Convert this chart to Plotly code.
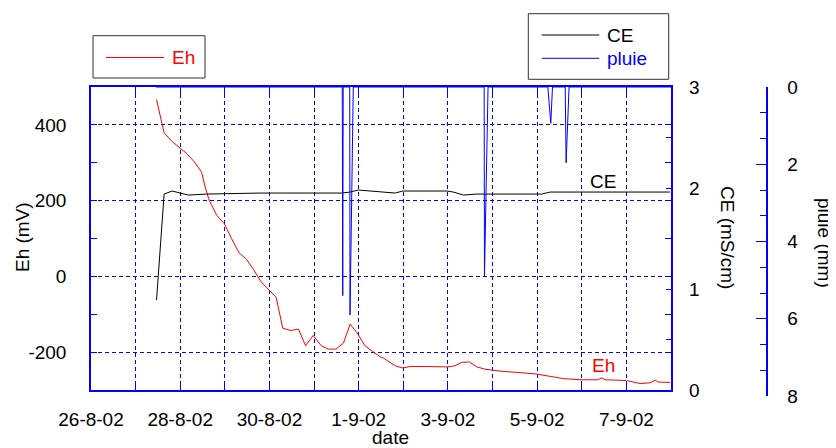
import plotly.graph_objects as go

# ---- data ----
eh_time = [
    "2002-08-27 11:15", "2002-08-27 15:20", "2002-08-27 19:40", "2002-08-28 00:00",
    "2002-08-28 03:35", "2002-08-28 07:40", "2002-08-28 11:30", "2002-08-28 13:25",
    "2002-08-28 15:35", "2002-08-28 19:40", "2002-08-28 23:45", "2002-08-29 03:35",
    "2002-08-29 07:40", "2002-08-29 11:15", "2002-08-29 15:20", "2002-08-29 19:25",
    "2002-08-30 00:00", "2002-08-30 03:35", "2002-08-30 07:10", "2002-08-30 11:30",
    "2002-08-30 15:35", "2002-08-30 19:25", "2002-08-30 23:30", "2002-08-31 03:50",
    "2002-08-31 07:40", "2002-08-31 11:45", "2002-08-31 15:50", "2002-08-31 19:25",
    "2002-08-31 23:15", "2002-09-01 03:20", "2002-09-01 07:25", "2002-09-01 11:30",
    "2002-09-01 13:25", "2002-09-01 19:40", "2002-09-01 23:45", "2002-09-02 03:35",
    "2002-09-02 11:45", "2002-09-02 19:55", "2002-09-03 00:00", "2002-09-03 03:50",
    "2002-09-03 07:25", "2002-09-03 11:30", "2002-09-03 15:35", "2002-09-03 19:55",
    "2002-09-04 00:00", "2002-09-04 05:45", "2002-09-04 14:55", "2002-09-04 23:45",
    "2002-09-05 07:00", "2002-09-05 14:10", "2002-09-06 00:00", "2002-09-06 08:25",
    "2002-09-06 10:50", "2002-09-06 12:30", "2002-09-07 00:00", "2002-09-07 07:25",
    "2002-09-07 12:45", "2002-09-07 15:35", "2002-09-07 17:00", "2002-09-07 23:30",
]
eh_mv = [
    467, 379, 356, 339, 324, 302, 275, 236, 201, 161, 139, 100,
    62, 47, 19, -14, -38, -55, -137, -143, -139, -183, -156, -183,
    -192, -192, -176, -126, -150, -183, -198, -212, -216, -236, -242, -238,
    -238, -239, -239, -236, -227, -226, -239, -245, -248, -251, -254, -258,
    -264, -270, -273, -273, -268, -273, -275, -283, -281, -274, -279, -280,
]

ce_time = [
    "2002-08-27 11:15", "2002-08-27 15:20", "2002-08-27 19:40", "2002-08-28 00:00",
    "2002-08-28 04:20", "2002-08-28 14:10", "2002-08-29 19:00", "2002-08-31 14:50",
    "2002-08-31 19:25", "2002-08-31 23:45", "2002-09-01 06:15", "2002-09-01 11:30",
    "2002-09-01 19:40", "2002-09-01 23:45", "2002-09-02 23:30", "2002-09-03 02:50",
    "2002-09-03 08:25", "2002-09-03 15:35", "2002-09-04 14:55", "2002-09-05 02:25",
    "2002-09-05 07:00", "2002-09-07 23:30",
]
ce_mscm = [
    0.89, 1.94, 1.97, 1.95, 1.93, 1.94, 1.95, 1.95, 1.96, 1.98, 1.97, 1.96,
    1.95, 1.97, 1.97, 1.96, 1.93, 1.94, 1.94, 1.94, 1.96, 1.96,
]

pluie_time = [
    "2002-08-27 11:00",
    "2002-08-31 15:10", "2002-08-31 15:25", "2002-08-31 15:40",
    "2002-08-31 19:10", "2002-08-31 19:20", "2002-08-31 21:05",
    "2002-09-03 19:30", "2002-09-03 19:40", "2002-09-03 21:35",
    "2002-09-05 05:45", "2002-09-05 07:20", "2002-09-05 08:15",
    "2002-09-05 15:05", "2002-09-05 15:35", "2002-09-05 17:10",
    "2002-09-08 00:00",
]
pluie_mm = [
    0,
    0, 5.4, 0,
    0, 5.9, 0,
    0, 4.9, 0,
    0, 0.94, 0,
    0, 1.96, 0,
    0,
]

date_range = ["2002-08-26", "2002-09-08"]
eh_tickvals = [-200, 0, 200, 400]
eh_ticktext = ["-200", "0", "200", "400"]

# ---- layout geometry ----
# the page puts the figure 8px in from the top-left corner, so the figure is
# 8px smaller and positions below are given in window pixels minus that offset
OFF = 8
W, H = 836 - OFF, 448 - OFF
ML, MR, MT, MB = 91 - OFF, 56, 87 - OFF, 52
PW, PH = W - ML - MR, H - MT - MB


def px_x(px):
    return (px - OFF - ML) / PW


def px_y(py):
    return (H - MB - (py - OFF)) / PH


FONT = "Liberation Sans, Arial, Helvetica, sans-serif"
BLUE = "#0000ff"
RED = "#ff0000"
GRID = dict(showgrid=True, gridcolor=BLUE, gridwidth=1, griddash="4px,3px")

fig = go.Figure()

fig.add_trace(go.Scatter(
    x=eh_time, y=eh_mv, name="Eh", mode="lines",
    line=dict(color=RED, width=1), xaxis="x", yaxis="y",
))
fig.add_trace(go.Scatter(
    x=ce_time, y=ce_mscm, name="CE", mode="lines",
    line=dict(color="black", width=1), xaxis="x", yaxis="y2",
))
fig.add_trace(go.Scatter(
    x=pluie_time, y=pluie_mm, name="pluie", mode="lines",
    line=dict(color=BLUE, width=1), xaxis="x2", yaxis="y3",
))

x_dom = [0, px_x(671)]

fig.update_layout(
    width=W, height=H,
    margin=dict(l=ML, r=MR, t=MT, b=MB),
    paper_bgcolor="white", plot_bgcolor="rgba(0,0,0,0)",
    font=dict(family=FONT, size=19, color="black"),
    showlegend=False,
    xaxis=dict(
        type="date", domain=x_dom, range=date_range, anchor="y", automargin=False,
        tick0="2002-08-26", dtick=2 * 86400000, tickformat="%-d-%-m-%y",
        ticks="inside", ticklen=8, tickcolor=BLUE, tickwidth=1,
        showline=True, linecolor=BLUE, linewidth=1.5, mirror="allticks",
        ticklabelstandoff=11, zeroline=False,
        minor=dict(dtick=86400000, ticks="inside", ticklen=8, tickcolor=BLUE,
                   showgrid=True, gridcolor=BLUE, gridwidth=1, griddash="4px,3px"),
        **GRID,
    ),
    xaxis2=dict(
        type="date", domain=x_dom, range=date_range, anchor="y3",
        visible=False, showgrid=False, automargin=False,
    ),
    yaxis=dict(
        domain=[px_y(390), 1], range=[-300, 500], anchor="x", automargin=False,
        tickmode="array", tickvals=eh_tickvals, ticktext=eh_ticktext,
        ticks="inside", ticklen=6, tickcolor=BLUE,
        showline=True, linecolor=BLUE, linewidth=1.5, mirror="allticks",
        ticklabelstandoff=19, zeroline=False,
        minor=dict(tickmode="linear", tick0=0, dtick=100, ticks="inside",
                   ticklen=6, tickcolor=BLUE, showgrid=False),
        **GRID,
    ),
    yaxis2=dict(
        overlaying="y", side="right", anchor="x", range=[0, 3], automargin=False,
        tickvals=[0, 1, 2, 3], ticks="inside", ticklen=5, tickcolor=BLUE,
        showline=False, showgrid=False, zeroline=False,
        ticklabelstandoff=17,
        minor=dict(tickmode="linear", tick0=0, dtick=0.5, ticks="inside",
                   ticklen=5, tickcolor=BLUE, showgrid=False),
    ),
    yaxis3=dict(
        domain=[0, 1], range=[8, 0], anchor="free", side="right",
        position=px_x(766.7), automargin=False,
        tickmode="linear", tick0=0, dtick=2, ticks="inside", ticklen=10,
        tickcolor=BLUE, showline=True, linecolor=BLUE, linewidth=1.5,
        showgrid=False, zeroline=False, ticklabelstandoff=16,
        minor=dict(tickmode="linear", tick0=0, dtick=2 / 3, ticks="inside",
                   ticklen=6, tickcolor=BLUE, showgrid=False),
    ),
)

# axis titles
titles = [
    dict(text="Eh (mV)", x=px_x(22), y=px_y(237), textangle=-90),
    dict(text="CE (mS/cm)", x=px_x(728), y=px_y(237), textangle=90),
    dict(text="pluie (mm)", x=px_x(825), y=px_y(243), textangle=90),
    dict(text="date", x=px_x(390), y=px_y(437), textangle=0),
]
for t in titles:
    fig.add_annotation(xref="paper", yref="paper", showarrow=False,
                       xanchor="center", yanchor="middle", **t)

# curve labels inside the plot
fig.add_annotation(x="2002-09-06 11:30", y=2.06, xref="x", yref="y2", text="CE",
                   showarrow=False, font=dict(color="black"))
fig.add_annotation(x="2002-09-06 11:30", y=-235, xref="x", yref="y", text="Eh",
                   showarrow=False, font=dict(color=RED))

# legend boxes
def legend_box(x0, y0, x1, y1):
    fig.add_shape(type="rect", xref="paper", yref="paper",
                  x0=px_x(x0), x1=px_x(x1), y0=px_y(y0), y1=px_y(y1),
                  line=dict(color="#333333", width=1), fillcolor="white")


def legend_item(x0, x1, y, text, color):
    fig.add_shape(type="line", xref="paper", yref="paper",
                  x0=px_x(x0), x1=px_x(x1), y0=px_y(y), y1=px_y(y),
                  line=dict(color=color, width=1))
    fig.add_annotation(xref="paper", yref="paper", x=px_x(x1 + 6), y=px_y(y + 0.5),
                       xanchor="left", yanchor="middle", showarrow=False,
                       text=text, font=dict(color=color))


legend_box(93, 35.7, 205, 78)
legend_item(106, 164, 57.5, "Eh", RED)
legend_box(528.3, 13.7, 668.7, 79.3)
legend_item(541.7, 599.3, 35, "CE", "black")
legend_item(541.7, 599.3, 58.3, "pluie", BLUE)

fig.write_html("out.html")
